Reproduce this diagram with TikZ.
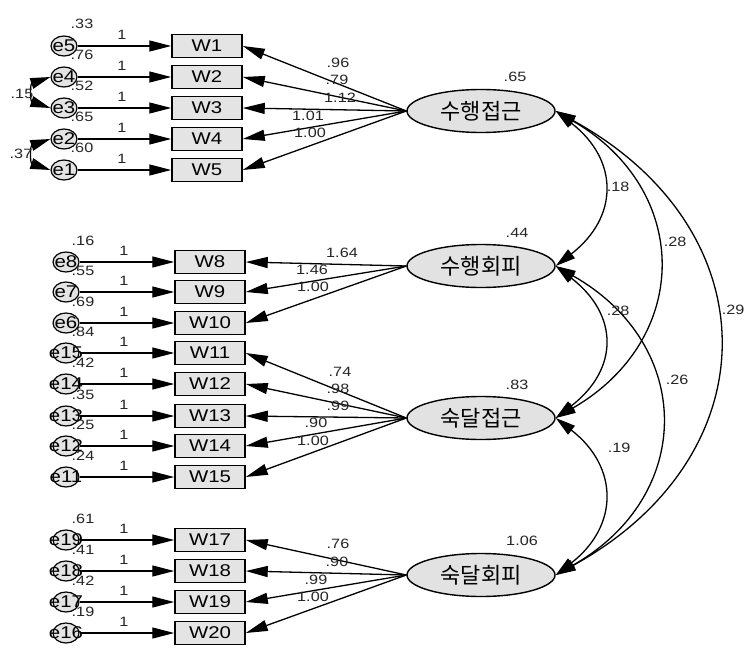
\documentclass[tikz,border=0pt]{standalone}
\usepackage{fontspec}
\setmainfont{Liberation Sans}[FakeStretch=1.2]
\newfontfamily\kr{Noto Sans CJK KR}
\usetikzlibrary{arrows.meta,shapes.geometric}
\begin{document}
\begin{tikzpicture}[x=1pt,y=-1pt,
  obs/.style={draw,line width=1.5pt,fill={rgb,255:red,228;green,228;blue,228},minimum width=70pt,minimum height=23pt,inner sep=0pt,font=\fontsize{17}{17}\selectfont},
  err/.style={draw,ellipse,line width=1.2pt,fill={rgb,255:red,228;green,228;blue,228},minimum width=26pt,minimum height=20pt,inner sep=0pt,font=\fontsize{17}{17}\selectfont},
  lat/.style={draw,ellipse,line width=1.4pt,fill={rgb,255:red,226;green,226;blue,226},minimum width=148pt,minimum height=43pt,inner sep=0pt,font=\kr\fontsize{22}{22}\selectfont},
  num/.style={inner sep=0pt,font=\fontsize{13.5}{13.5}\selectfont,text=black!85},
  arr/.style={line width=1.3pt,-{Triangle[length=22pt,width=11pt]}},
  cov/.style={line width=1.3pt,{Triangle[length=20pt,width=11pt]}-{Triangle[length=20pt,width=11pt]}}
]
\useasboundingbox (0,0) rectangle (751,647);
\fill[white] (0,0) rectangle (751,647);

% latent variables
\node[lat] (pa) at (481,111) {수행접근};
\node[lat] (pb) at (481,266) {수행회피};
\node[lat] (pc) at (481,418) {숙달접근};
\node[lat] (pd) at (481,575) {숙달회피};
\node[num] (vpa) at (515,77) {.65};
\node[num] (vpb) at (517,233) {.44};
\node[num] (vpc) at (517,385) {.83};
\node[num] (vpd) at (522,541) {1.06};

% group 1
\foreach \w/\e/\y/\v in {W1/e5/46/.33, W2/e4/77/.76, W3/e3/108/.52, W4/e2/139/.65, W5/e1/170/.60}{
  \node[obs] (\w) at (207,\y) {\w};
  \node[err] (\e) at (64,\y) {\makebox[0pt]{\e}};
  \node[num] (v\e) at (82,\y-22) {\v};
  \node[num] (o\e) at (122,\y-11) {1};
  \draw[arr] (\e) -- (\w);
  \draw[arr] (pa.west) -- (\w.east);
}
% group 2
\foreach \w/\e/\y/\v in {W8/e8/262/.16, W9/e7/292/.55, W10/e6/323/.69}{
  \node[obs] (\w) at (210,\y) {\w};
  \node[err] (\e) at (66,\y) {\makebox[0pt]{\e}};
  \node[num] (v\e) at (83,\y-21) {\v};
  \node[num] (o\e) at (124,\y-11) {1};
  \draw[arr] (\e) -- (\w);
  \draw[arr] (pb.west) -- (\w.east);
}
% group 3
\foreach \w/\e/\y/\v in {W11/e15/353/.84, W12/e14/384/.42, W13/e13/416/.35, W14/e12/446/.25, W15/e11/477/.24}{
  \node[obs] (\w) at (210,\y) {\w};
  \node[err] (\e) at (66,\y) {\makebox[0pt]{\e}};
  \node[num] (v\e) at (83,\y-21) {\v};
  \node[num] (o\e) at (124,\y-11) {1};
  \draw[arr] (\e) -- (\w);
  \draw[arr] (pc.west) -- (\w.east);
}
% group 4
\foreach \w/\e/\y/\v in {W17/e19/540/.61, W18/e18/571/.41, W19/e17/602/.42, W20/e16/633/.19}{
  \node[obs] (\w) at (210,\y) {\w};
  \node[err] (\e) at (66,\y) {\makebox[0pt]{\e}};
  \node[num] (v\e) at (83,\y-21) {\v};
  \node[num] (o\e) at (124,\y-11) {1};
  \draw[arr] (\e) -- (\w);
  \draw[arr] (pd.west) -- (\w.east);
}

% loading labels
\node[num] (l1) at (338,63) {.96};
\node[num] (l2) at (337,80) {.79};
\node[num] (l3) at (340,98) {1.12};
\node[num] (l4) at (308,116) {1.01};
\node[num] (l5) at (310,133) {1.00};
\node[num] (l8) at (342,253) {1.64};
\node[num] (l9) at (312,270) {1.46};
\node[num] (l10) at (313,287) {1.00};
\node[num] (l11) at (340,372) {.74};
\node[num] (l12) at (338,389) {.98};
\node[num] (l13) at (338,406) {.99};
\node[num] (l14) at (316,423) {.90};
\node[num] (l15) at (313,441) {1.00};
\node[num] (l17) at (338,544) {.76};
\node[num] (l18) at (337,562) {.90};
\node[num] (l19) at (316,580) {.99};
\node[num] (l20) at (313,597) {1.00};

% error covariances
\draw[cov] (e4.west) .. controls (30,84) and (30,101) .. (e3.west);
\draw[cov] (e2.west) .. controls (30,146) and (30,163) .. (e1.west);
\node[num] (c43) at (22,94) {.15};
\node[num] (c21) at (21,154) {.37};

% factor covariances
\draw[cov] (pa.east) .. controls (619,160) and (619,217) .. (pb.east);
\draw[cov] (pa.east) .. controls (692,190) and (692,339) .. (pc.east);
\draw[cov] (pa.east) .. controls (772,230) and (772,456) .. (pd.east);
\draw[cov] (pb.east) .. controls (619,315) and (619,369) .. (pc.east);
\draw[cov] (pb.east) .. controls (695,345) and (695,496) .. (pd.east);
\draw[cov] (pc.east) .. controls (619,467) and (619,526) .. (pd.east);
\node[num] (cab) at (618,187) {.18};
\node[num] (cac) at (675,242) {.28};
\node[num] (cad) at (733,310) {.29};
\node[num] (cbc) at (618,311) {.28};
\node[num] (cbd) at (677,380) {.26};
\node[num] (ccd) at (619,448) {.19};
\end{tikzpicture}
\end{document}
